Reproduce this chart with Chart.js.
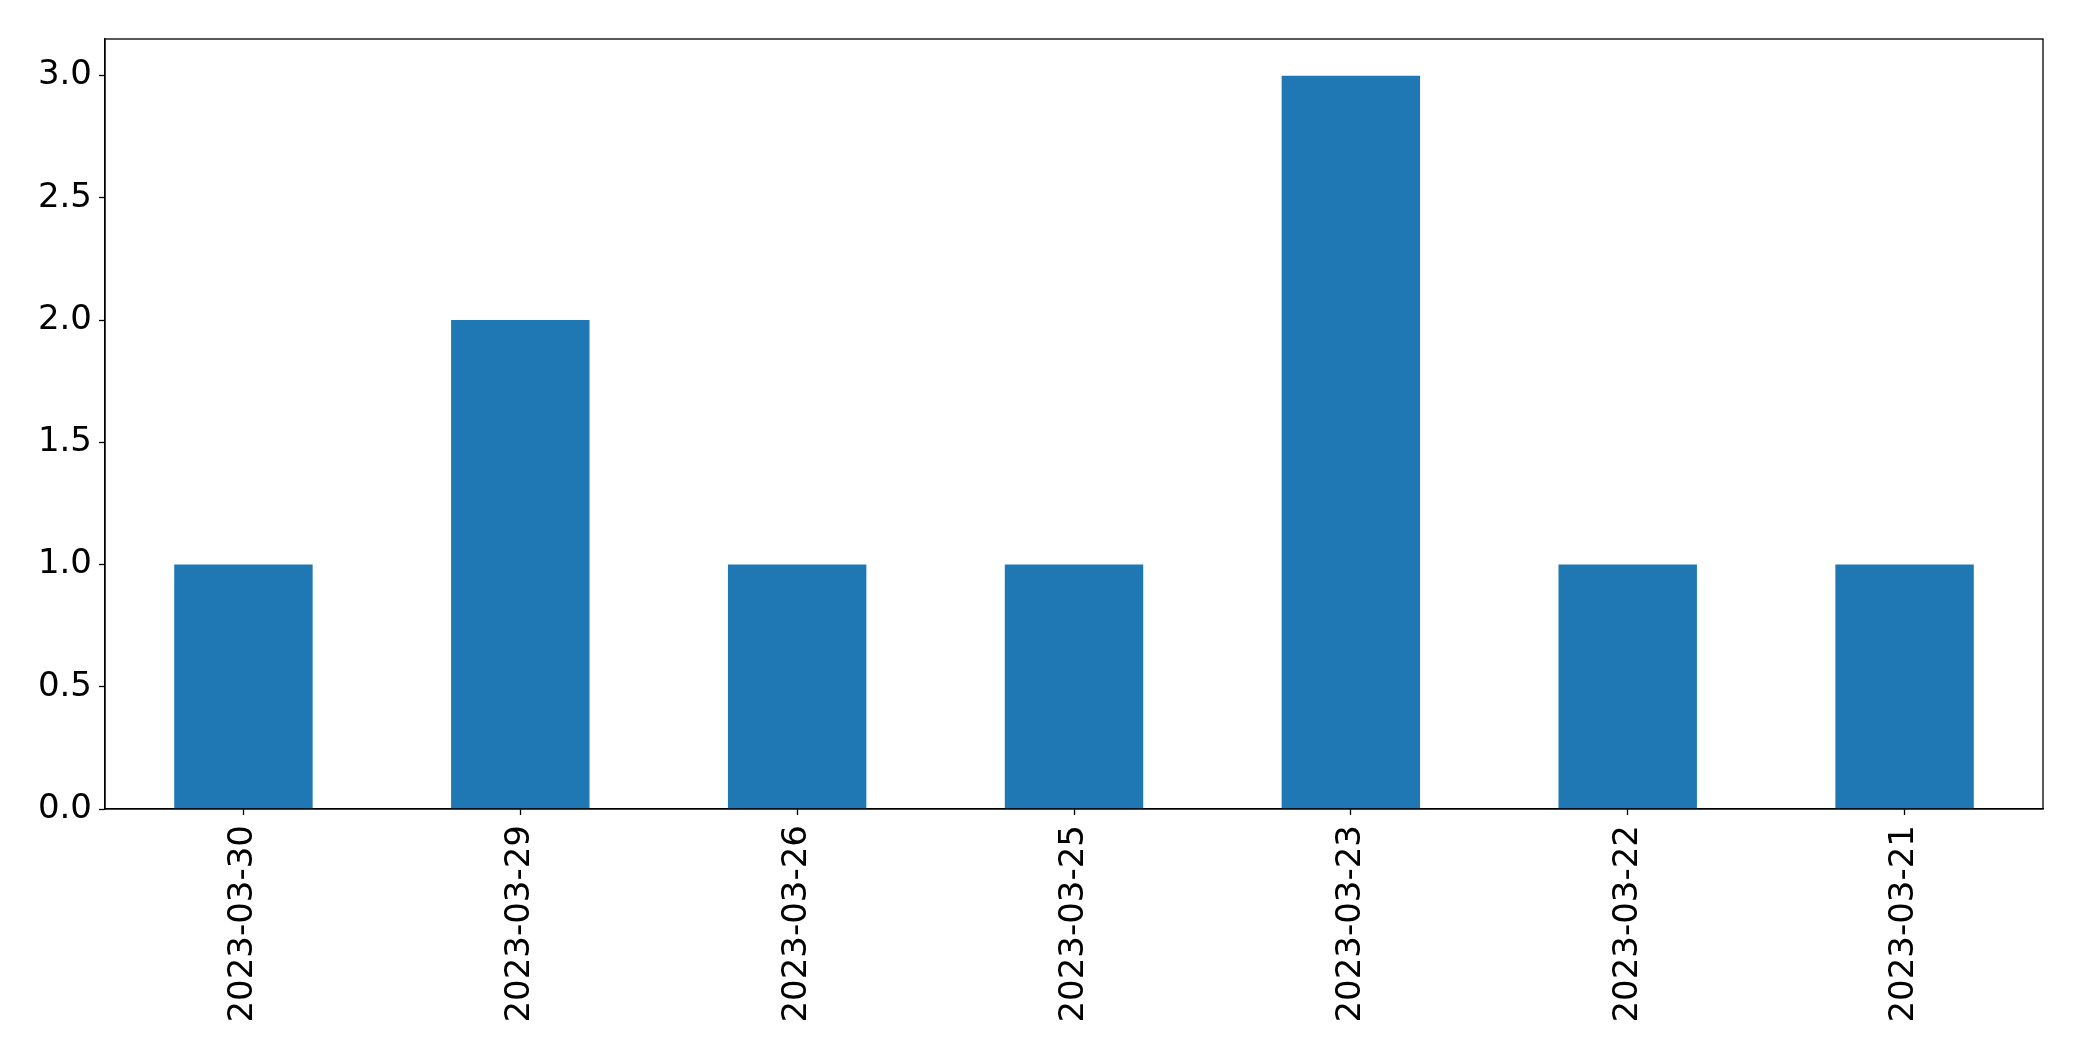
<!DOCTYPE html>
<html>
<head>
<meta charset="utf-8">
<script src="https://cdn.jsdelivr.net/npm/chart.js@4.4.0/dist/chart.umd.min.js"></script>
<style>
  html, body { margin: 0; padding: 0; background: #fff; }
  #wrap { width: 2082px; height: 1061px; }
</style>
</head>
<body>
<div id="wrap"><canvas id="chart" width="2082" height="1061"></canvas></div>
<script>
const dates = ['2023-03-30', '2023-03-29', '2023-03-26', '2023-03-25', '2023-03-23', '2023-03-22', '2023-03-21'];
const counts = [1, 2, 1, 1, 3, 1, 1];
const yTicks = [0, 0.5, 1.0, 1.5, 2.0, 2.5, 3.0];

// matplotlib-like closed frame round the plot
const frame = {
    id: 'frame',
    afterDraw(chart) {
        const a = chart.chartArea;
        const c = chart.ctx;
        c.save();
        c.strokeStyle = '#000';
        c.lineWidth = 1.3;
        c.strokeRect(a.left, a.top, a.right - a.left, a.bottom - a.top);
        c.restore();
    }
};

const font = { family: 'DejaVu Sans', size: 34 };

const ctx = document.getElementById('chart').getContext('2d');
const myChart = new Chart(ctx, {
    type: 'bar',
    data: {
        labels: dates,
        datasets: [{
            data: counts,
            backgroundColor: '#1f77b4',
            borderWidth: 0,
            barPercentage: 0.5,
            categoryPercentage: 1.0
        }]
    },
    options: {
        responsive: false,
        animation: false,
        layout: { padding: { top: 39, right: 39, left: 0, bottom: 0 } },
        plugins: { legend: { display: false }, tooltip: { enabled: false } },
        scales: {
            x: {
                offset: true,
                grid: { offset: false, drawOnChartArea: false, tickLength: 6, color: '#000', tickWidth: 1.3 },
                border: { color: '#000', width: 1.3 },
                ticks: { color: '#000', font: font, minRotation: 90, maxRotation: 90, padding: 10 },
                afterFit: (scale) => { scale.height = 252; }
            },
            y: {
                min: 0,
                max: 3.15,
                grid: { drawOnChartArea: false, tickLength: 6, color: '#000', tickWidth: 1.3 },
                border: { color: '#000', width: 1.3 },
                ticks: {
                    color: '#000',
                    font: font,
                    padding: 7,
                    callback: (v) => Number(v).toFixed(1)
                },
                afterBuildTicks: (scale) => { scale.ticks = yTicks.map(v => ({ value: v })); },
                afterFit: (scale) => { scale.width = 105; }
            }
        }
    },
    plugins: [frame]
});
</script>
</body>
</html>
